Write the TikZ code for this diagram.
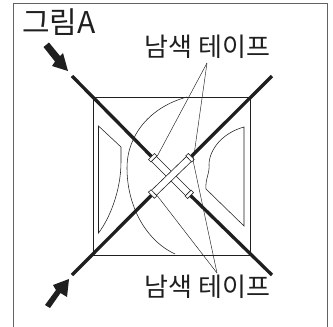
\documentclass[tikz,border=0pt]{standalone}
\usepackage{fontspec}
\setmainfont{Noto Sans CJK KR}
\usepackage{xcolor}
\usetikzlibrary{positioning,calc}
\definecolor{inkline}{gray}{0.12}
\begin{document}
\begin{tikzpicture}[
    x=1pt, y=-1pt,
    frameline/.style={draw=inkline!70, line width=0.9pt},
    thinline/.style={draw=inkline, line width=0.55pt},
    squareline/.style={draw=inkline, line width=0.8pt},
    rodline/.style={draw=inkline, line width=3.3pt},
    leader/.style={draw=inkline, line width=0.45pt},
    tapeband/.style={rectangle, draw=inkline, line width=0.6pt, fill=white, minimum width=50pt, minimum height=7pt, inner sep=0pt},
    tapecap/.style={rectangle, draw=inkline, line width=0.6pt, fill=white, minimum width=3.5pt, minimum height=8.5pt, inner sep=0pt},
    label/.style={inner sep=0pt, text=inkline, font=\fontsize{26}{26}\selectfont},
    push/.style={fill=inkline, draw=none}
]
\useasboundingbox (0,0) rectangle (333,327);
\fill[white] (0,0) rectangle (333,327);

% outer frame, open at the foot
\draw[frameline] (13,327) -- (13,3.5) -- (327,3.5) -- (327,327);

% square sheet and its curves
\node[rectangle, minimum width=157pt, minimum height=158pt, inner sep=0pt, squareline, draw] (sheet) at (171.5,176) {};

\draw[thinline] (187,97) .. controls (150,107) and (127,135) .. (127,168)
    .. controls (127,205) and (145,240) .. (175,254);
\draw[thinline] (244,127) .. controls (222,133) and (209,150) .. (209,165)
    .. controls (210,172) and (205,180) .. (206,189) -- (244,226) -- cycle;
\draw[thinline] (98.5,126) -- (121,147) -- (121,162)
    .. controls (121,190) and (110,218) .. (98.5,233) -- cycle;

% labels
\node[label, font=\fontsize{30}{30}\selectfont, anchor=west] (title) at (22,22.5) {그림A};
\node[label, anchor=center] (labeltop) at (207.5,47) {남색 테이프};
\node[label, anchor=center] (labelbot) at (207.5,287) {남색 테이프};

\coordinate (apextop) at (207,63);
\coordinate (apexbot) at (217,273);

% tapes
\node[tapeband, rotate=-45] (tapeB) at (171,176) {};
\node[tapeband, rotate=44] (tapeA) at (171.3,176) {};
\node[tapecap, rotate=-45] (capUL) at (152.7,157.7) {};
\node[tapecap, rotate=-45] (capLR) at (189.3,194.3) {};
\node[tapecap, rotate=44] (capLL) at (152.7,194) {};
\node[tapecap, rotate=44] (capUR) at (190,157.7) {};

% rods
\coordinate (rodUL) at (72,76);
\coordinate (rodUR) at (272,76);
\coordinate (rodLL) at (72,275);
\coordinate (rodLR) at (272,275);
\draw[rodline] (rodUL) -- (capUL);
\draw[rodline] (rodUR) -- (capUR);
\draw[rodline] (rodLL) -- (capLL);
\draw[rodline] (rodLR) -- (capLR);

% leaders
\draw[leader] (apextop) -- (capUL.north east);
\draw[leader] (apextop) -- (capUR.south);
\draw[leader] (apexbot) -- (capLL.south east);
\draw[leader] (apexbot) -- (capUR.south);

% push arrows
\fill[push] (43.5,47) -- (49,42.5) -- (60,56) -- (63,53) -- (68,71) -- (52,66) -- (55,61.5) -- cycle;
\fill[push] (45,305) -- (50,308) -- (60.5,293) -- (67,297) -- (69,279) -- (53,285) -- (56,290) -- cycle;
\end{tikzpicture}
\end{document}
